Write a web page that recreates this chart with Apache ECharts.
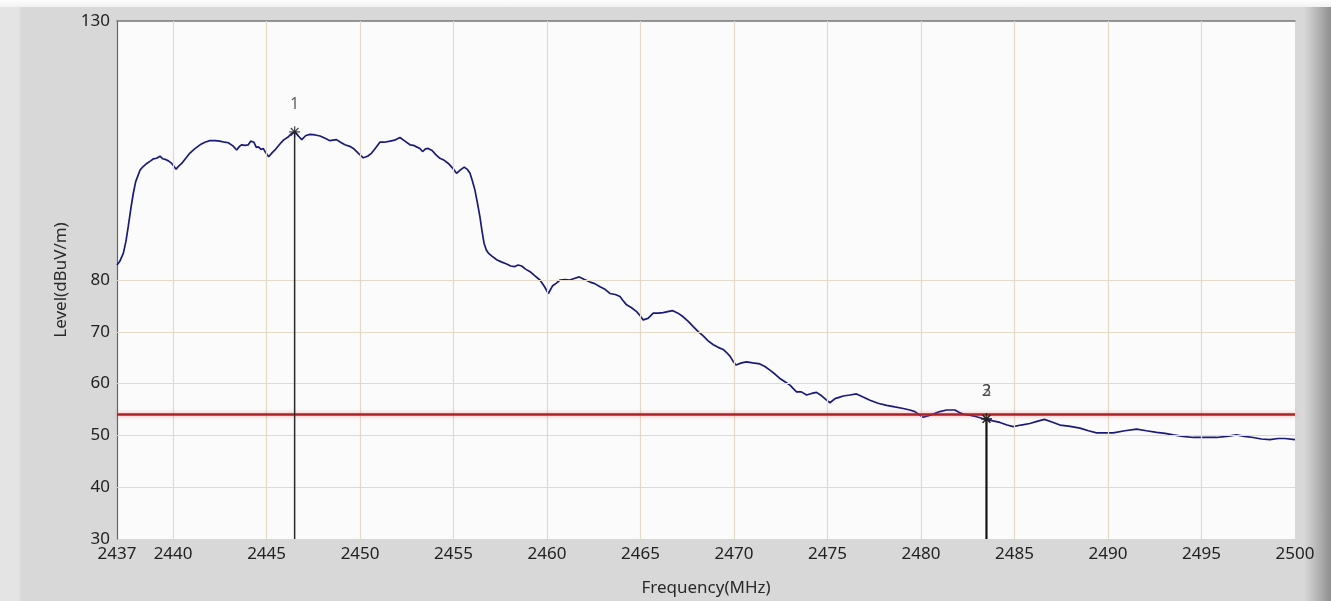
<!DOCTYPE html>
<html>
<head>
<meta charset="utf-8">
<script src="https://cdn.jsdelivr.net/npm/echarts@6/dist/echarts.min.js"></script>
<style>
  html, body { margin: 0; padding: 0; background: #ffffff; }
  #frame {
    position: absolute; left: 0; top: 0; width: 1331px; height: 601px;
    background: linear-gradient(to right, #e4e4e4 0px, #e4e4e4 18px, #d8d8d8 22px, #d8d8d8 1304px, #c4c4c4 1312px, #8e8e8e 1331px);
  }
  #topstrip { position: absolute; left: 0; top: 0; width: 1331px; height: 7px; background: linear-gradient(to bottom, #fdfdfd, #f2f2f2); }
  #chart { position: absolute; left: 0; top: 0; width: 1331px; height: 601px; }
</style>
</head>
<body>
<div id="frame"></div>
<div id="topstrip"></div>
<div id="chart"></div>
<script>
// ---- data ----
const freq = [
2437.00,2437.15,2437.34,2437.48,2437.60,2437.75,2437.87,2438.00,2438.23,2438.40,2438.59,2438.80,2438.95,2439.12,2439.30,2439.45,2439.57,2439.75,2439.93,2440.16,
2440.30,2440.46,2440.70,2440.90,2441.15,2441.44,2441.70,2441.97,2442.25,2442.50,2442.75,2442.95,2443.20,2443.40,2443.55,2443.67,2443.85,2444.02,2444.15,2444.32,
2444.45,2444.56,2444.70,2444.82,2444.95,2445.11,2445.30,2445.45,2445.70,2445.90,2446.15,2446.34,2446.52,2446.70,2446.88,2447.10,2447.32,2447.60,2447.86,2448.10,
2448.39,2448.55,2448.74,2448.95,2449.19,2449.45,2449.64,2449.90,2450.17,2450.40,2450.62,2450.85,2451.06,2451.30,2451.60,2451.85,2452.13,2452.40,2452.67,2452.85,
2453.02,2453.20,2453.34,2453.50,2453.64,2453.85,2454.05,2454.27,2454.50,2454.72,2454.95,2455.16,2455.35,2455.57,2455.75,2455.88,2456.00,2456.14,2456.28,2456.41,
2456.52,2456.63,2456.75,2456.86,2457.05,2457.31,2457.55,2457.84,2458.05,2458.28,2458.45,2458.64,2458.85,2459.09,2459.35,2459.62,2459.85,2460.07,2460.30,2460.50,
2460.70,2460.95,2461.22,2461.45,2461.72,2462.00,2462.30,2462.55,2462.83,2463.10,2463.36,2463.65,2463.90,2464.05,2464.25,2464.50,2464.79,2465.00,2465.14,2465.40,
2465.68,2465.95,2466.21,2466.45,2466.70,2467.00,2467.28,2467.55,2467.82,2468.10,2468.35,2468.60,2468.89,2469.15,2469.42,2469.60,2469.78,2469.95,2470.10,2470.40,
2470.67,2471.00,2471.38,2471.65,2471.92,2472.20,2472.45,2472.70,2472.99,2473.34,2473.60,2473.88,2474.15,2474.41,2474.70,2474.95,2475.13,2475.40,2475.66,2475.84,
2476.20,2476.55,2476.90,2477.27,2477.70,2478.16,2478.60,2479.05,2479.40,2479.67,2479.90,2480.12,2480.40,2480.65,2481.00,2481.37,2481.81,2482.05,2482.26,2482.60,
2482.97,2483.25,2483.50,2483.85,2484.22,2484.60,2484.93,2485.35,2485.82,2486.20,2486.60,2487.00,2487.43,2487.90,2488.50,2488.95,2489.39,2489.85,2490.28,2490.90,
2491.53,2492.05,2492.60,2493.05,2493.49,2494.00,2494.56,2495.20,2495.80,2496.35,2496.87,2497.30,2497.76,2498.20,2498.66,2499.10,2499.46,2500.00
];
const level = [
82.9,83.6,85.2,87.5,90.3,94.0,96.7,99.0,101.2,101.9,102.5,103.0,103.4,103.5,103.9,103.4,103.3,103.0,102.5,101.4,
102.0,102.5,103.6,104.5,105.3,106.1,106.6,106.9,106.9,106.8,106.6,106.5,105.9,105.1,105.8,106.1,106.0,106.1,106.8,106.6,
105.6,105.7,105.2,105.4,104.6,103.8,104.6,105.1,106.2,107.0,107.6,108.3,108.6,107.8,107.1,107.9,108.1,108.0,107.8,107.4,
106.9,107.0,107.1,106.6,106.1,105.8,105.4,104.5,103.6,103.9,104.5,105.6,106.6,106.6,106.8,107.0,107.5,106.8,106.1,106.0,
105.7,105.4,104.8,105.3,105.4,105.0,104.2,103.5,103.1,102.5,101.6,100.6,101.2,101.8,101.3,100.6,99.2,97.4,94.8,92.2,
89.5,87.1,85.8,85.2,84.6,83.9,83.5,83.1,82.7,82.6,82.9,82.7,82.1,81.6,80.8,80.0,78.8,77.4,78.9,79.4,
80.0,80.1,80.0,80.3,80.6,80.1,79.6,79.3,78.7,78.2,77.4,77.2,76.8,76.1,75.2,74.7,73.9,73.0,72.3,72.6,
73.6,73.6,73.7,73.9,74.1,73.6,72.9,72.0,71.0,70.0,69.2,68.3,67.5,67.0,66.6,66.0,65.3,64.3,63.6,64.0,
64.2,64.0,63.8,63.3,62.6,61.8,61.0,60.4,59.7,58.4,58.4,57.8,58.1,58.3,57.6,56.8,56.3,57.1,57.4,57.6,
57.8,58.0,57.4,56.8,56.2,55.8,55.5,55.2,54.9,54.6,54.0,53.5,53.8,54.1,54.6,54.9,54.9,54.4,54.1,53.9,
53.6,53.3,53.1,52.8,52.5,52.0,51.7,52.0,52.3,52.7,53.1,52.6,52.0,51.8,51.4,50.9,50.5,50.5,50.5,50.9,
51.2,50.9,50.6,50.4,50.1,49.8,49.6,49.6,49.6,49.8,50.1,49.8,49.6,49.3,49.2,49.4,49.4,49.2
];
const limitLevel = 54;
const markerNames = ['1', '2', '3'];
const markerFreq  = [2446.5, 2483.5, 2483.5];
const markerLevel = [108.6, 53.2, 53.2];
const xTickLabels = [2437, 2440, 2445, 2450, 2455, 2460, 2465, 2470, 2475, 2480, 2485, 2490, 2495, 2500];
const xGridValues = [2440, 2445, 2450, 2455, 2460, 2465, 2470, 2475, 2480, 2485, 2490, 2495];
const yTickLabels = [30, 40, 50, 60, 70, 80, 130];
const yGridValues = [40, 50, 60, 70, 80];
const xMin = 2437, xMax = 2500, yMin = 30, yMax = 130;

// ---- build ----
const curve = freq.map((f, i) => [f, level[i]]);
const FONT = 'Noto Sans';
const asterisk = 'path://M5,0L5,10M0,5L10,5M1.5,1.5L8.5,8.5M1.5,8.5L8.5,1.5';

const gridLines = [];
xGridValues.forEach(v => gridLines.push({ xAxis: v }));
yGridValues.forEach(v => gridLines.push({ yAxis: v }));

const series = [
  {
    type: 'line', data: [], z: 1, silent: true,
    markLine: {
      silent: true, symbol: 'none', animation: false,
      label: { show: false },
      lineStyle: { color: '#e2dac6', width: 1.2, type: 'solid' },
      data: gridLines
    }
  },
  {
    type: 'line', data: curve, z: 4, showSymbol: false, smooth: false, animation: false,
    lineStyle: { color: '#1a1a78', width: 1.7 },
    markLine: {
      silent: true, symbol: 'none', animation: false,
      label: { show: false },
      lineStyle: { color: '#ad2229', width: 2.6, type: 'solid', shadowColor: 'rgba(230,80,80,0.5)', shadowBlur: 4 },
      data: [{ yAxis: limitLevel }]
    }
  }
];

markerNames.forEach((name, i) => {
  series.push({
    type: 'line', z: 5, animation: false, showSymbol: false,
    lineStyle: { color: i === 0 ? '#2a2a2a' : '#111111', width: i === 0 ? 1.5 : 1.7 },
    data: [[markerFreq[i], yMin], [markerFreq[i], markerLevel[i]]]
  });
});

series.push({
  type: 'scatter', z: 6, animation: false,
  symbol: asterisk, symbolSize: 11,
  itemStyle: { color: 'rgba(0,0,0,0)', borderColor: '#222', borderWidth: 1.3 },
  label: {
    show: true, position: 'top', distance: 13,
    fontFamily: FONT, fontSize: 16, color: '#3a3a3a',
    formatter: p => p.data.name
  },
  data: markerNames.map((n, i) => ({ name: n, value: [markerFreq[i], markerLevel[i]] }))
});

const chart = echarts.init(document.getElementById('chart'), null, { renderer: 'canvas' });
chart.setOption({
  backgroundColor: 'transparent',
  animation: false,
  grid: { left: 117, top: 21, right: 36, bottom: 62, show: true, backgroundColor: '#fbfbfb', borderWidth: 0, containLabel: false, outerBoundsMode: 'none' },
  xAxis: [
    {
      type: 'value', min: xMin, max: xMax,
      name: 'Frequency(MHz)', nameLocation: 'middle', nameGap: 41,
      nameTextStyle: { fontFamily: FONT, fontSize: 17, color: '#2a2a2a' },
      axisLine: { show: false }, axisTick: { show: false }, splitLine: { show: false },
      axisLabel: { customValues: xTickLabels, formatter: v => String(v), fontFamily: FONT, fontSize: 17, color: '#222', margin: 7, showMinLabel: true, showMaxLabel: true }
    },
    {
      type: 'value', min: xMin, max: xMax, position: 'top',
      axisLine: { show: true, lineStyle: { color: '#777', width: 1.5 } },
      axisTick: { show: false }, axisLabel: { show: false }, splitLine: { show: false }
    }
  ],
  yAxis: {
    type: 'value', min: yMin, max: yMax,
    name: 'Level(dBuV/m)', nameLocation: 'middle', nameGap: 45, nameRotate: 90,
    nameTextStyle: { fontFamily: FONT, fontSize: 17, color: '#2a2a2a' },
    axisLine: { show: true, lineStyle: { color: '#666', width: 1.2 } },
    axisTick: { show: false }, splitLine: { show: false },
    axisLabel: { customValues: yTickLabels, formatter: v => String(v), fontFamily: FONT, fontSize: 17, color: '#222', margin: 7, showMinLabel: true, showMaxLabel: true }
  },
  series: series
});
</script>
</body>
</html>
